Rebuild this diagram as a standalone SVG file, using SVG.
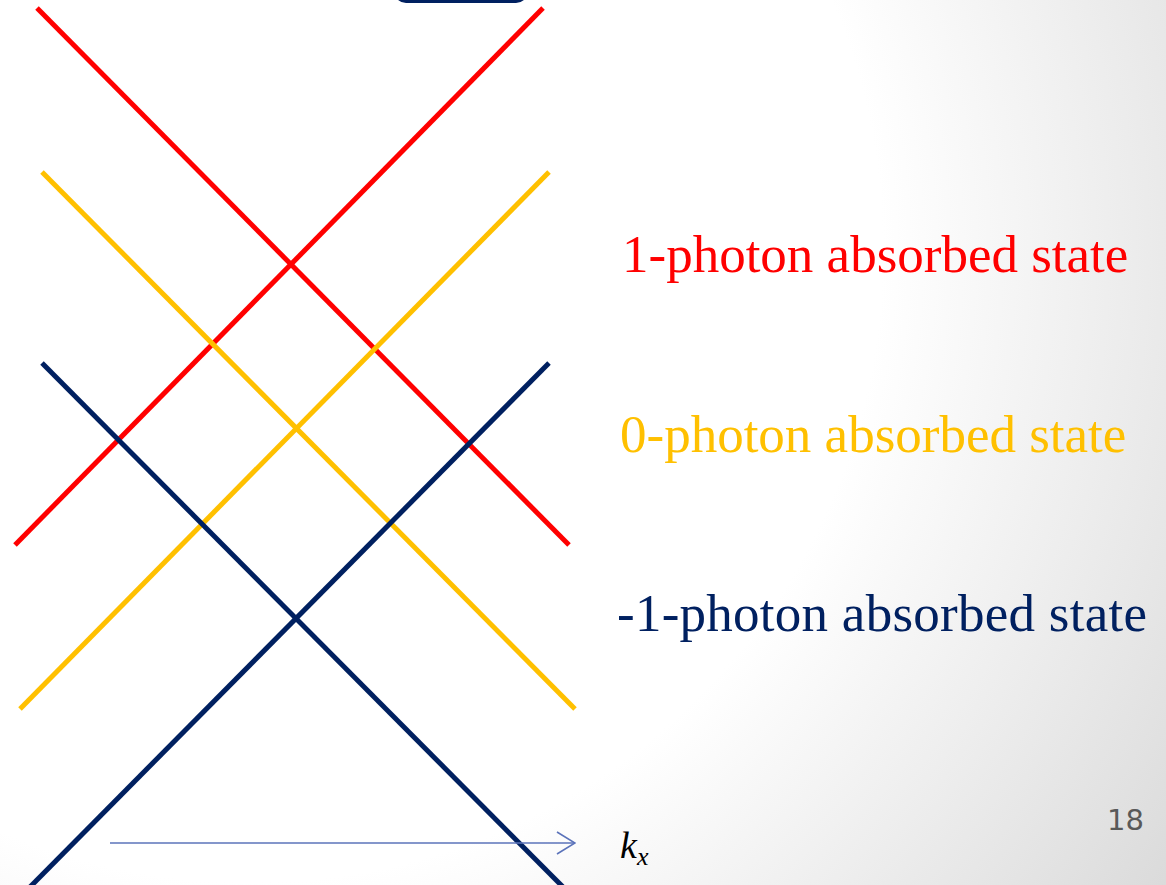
<svg xmlns="http://www.w3.org/2000/svg" width="1166" height="885" viewBox="0 0 1166 885">
<defs>
<radialGradient id="bg" cx="250" cy="250" r="1150" gradientUnits="userSpaceOnUse">
<stop offset="0" stop-color="#ffffff"/>
<stop offset="0.55" stop-color="#ffffff"/>
<stop offset="1" stop-color="#d8d8d8"/>
</radialGradient>
<marker id="arr" markerWidth="20" markerHeight="24" refX="19" refY="12" orient="auto" markerUnits="userSpaceOnUse">
<path d="M1,1 L19,12 L1,23" fill="none" stroke="#5b73ba" stroke-width="1.6"/>
</marker>
</defs>
<style>
.ln{stroke-width:5;fill:none;stroke-linecap:butt}
.r{stroke:#ff0000}.y{stroke:#ffc000}.n{stroke:#002060}
.lbl{font-family:"Liberation Serif","Times New Roman",serif;font-size:53px}
</style>
<rect width="1166" height="885" fill="url(#bg)"/>
<g id="topbox"><rect x="394" y="-30" width="134" height="33" rx="12" fill="#002060"/></g>
<g id="connectors">
<line class="ln r" x1="37" y1="8" x2="569" y2="545"/>
<line class="ln r" x1="543" y1="8" x2="15" y2="545"/>
<line class="ln y" x1="42" y1="172" x2="575" y2="709"/>
<line class="ln y" x1="549" y1="172" x2="20" y2="709"/>
<line class="ln n" x1="42" y1="363" x2="563" y2="887"/>
<line class="ln n" x1="549" y1="363" x2="30" y2="887"/>
<line x1="110" y1="843" x2="575" y2="843" stroke="#5b73ba" stroke-width="1.6" marker-end="url(#arr)"/>
</g>
<g id="label1"><text class="lbl" x="622" y="272" fill="#ff0000">1-photon absorbed state</text></g>
<g id="label0"><text class="lbl" x="620" y="452" fill="#ffc000">0-photon absorbed state</text></g>
<g id="labelm1"><text class="lbl" x="617" y="631" fill="#002060" textLength="530">-1-photon absorbed state</text></g>
<g id="kx"><text x="620" y="858" font-family="Liberation Serif, serif" font-style="italic" font-size="38" fill="#000">k<tspan font-size="26" dy="7">x</tspan></text></g>
<g id="pagenum"><text x="1107" y="830" font-family="DejaVu Sans, sans-serif" font-size="29" fill="#595959">18</text></g>
</svg>
